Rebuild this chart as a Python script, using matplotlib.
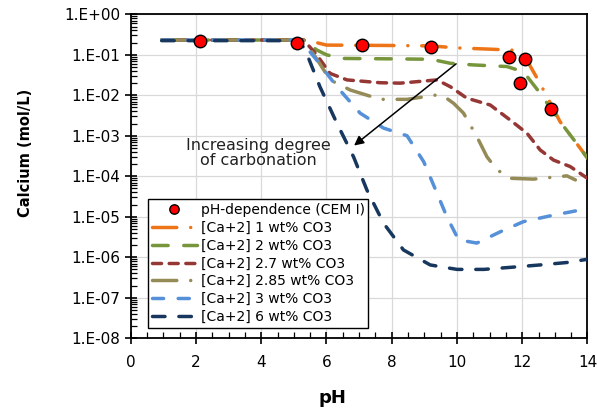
import matplotlib
matplotlib.use('Agg')
import matplotlib.pyplot as plt
from matplotlib.ticker import FixedLocator, FuncFormatter, MultipleLocator, LogLocator
import numpy as np

# -----------------------------------------------
# data (pH, log10 of Ca in mol/L)

cem_ph = [2.11, 5.10, 7.09, 9.19, 11.59, 12.08, 11.93, 12.87]
cem_ca = [0.22, 0.20, 0.175, 0.154, 0.086, 0.079, 0.020, 0.0045]

ph_1 = [0.95, 5.3, 5.5, 6.0, 8.0, 9.2, 10.0, 11.0, 11.85, 12.14, 12.55, 13.16, 13.67, 14.0]
log_1 = [-0.635, -0.635, -0.66, -0.76, -0.77, -0.78, -0.83, -0.86, -0.89, -1.13, -1.71, -2.65, -3.19, -3.55]

ph_2 = [0.95, 5.3, 5.7, 6.0, 6.5, 8.0, 9.2, 9.8, 10.5, 11.53, 12.04, 12.55, 13.16, 13.67, 14.0]
log_2 = [-0.635, -0.635, -0.88, -1.0, -1.09, -1.10, -1.11, -1.21, -1.25, -1.29, -1.42, -1.95, -2.65, -3.19, -3.55]

ph_27 = [0.95, 5.3, 5.7, 6.11, 6.63, 7.65, 8.26, 9.39, 9.8, 10.3, 11.02, 11.63, 12.15, 12.55, 12.96, 13.47, 14.0]
log_27 = [-0.635, -0.635, -1.0, -1.46, -1.62, -1.69, -1.70, -1.62, -1.79, -2.07, -2.24, -2.61, -2.94, -3.35, -3.60, -3.76, -4.05]

ph_285 = [0.95, 5.3, 5.7, 6.11, 6.73, 7.65, 8.47, 9.39, 9.59, 9.9, 10.2, 10.61, 10.92, 11.23, 11.63, 12.35, 13.37, 13.63]
log_285 = [-0.635, -0.635, -1.1, -1.62, -1.87, -2.10, -2.10, -1.99, -2.02, -2.20, -2.44, -3.02, -3.52, -3.84, -4.05, -4.07, -3.99, -4.09]

ph_3 = [0.95, 5.2, 5.7, 6.32, 7.03, 7.75, 8.47, 8.98, 9.39, 9.69, 10.05, 10.61, 11.33, 12.04, 12.96, 14.0]
log_3 = [-0.635, -0.635, -1.13, -1.79, -2.44, -2.81, -3.0, -3.64, -4.42, -5.0, -5.57, -5.65, -5.37, -5.12, -4.96, -4.80]

ph_6 = [0.95, 5.15, 5.35, 5.8, 6.32, 6.83, 7.24, 7.75, 8.36, 9.18, 10.0, 10.82, 11.63, 12.55, 13.37, 14.0]
log_6 = [-0.65, -0.65, -0.88, -1.79, -2.69, -3.52, -4.34, -5.16, -5.82, -6.19, -6.30, -6.30, -6.25, -6.19, -6.13, -6.05]

series = [
    (ph_1, log_1, '#EE7418', (7, 4, 0.01, 4), '[Ca+2] 1 wt% CO3'),
    (ph_2, log_2, '#77953B', (4.5, 4.5), '[Ca+2] 2 wt% CO3'),
    (ph_27, log_27, '#953735', (2.6, 2.2), '[Ca+2] 2.7 wt% CO3'),
    (ph_285, log_285, '#958B57', (7, 4, 0.01, 4), '[Ca+2] 2.85 wt% CO3'),
    (ph_3, log_3, '#5590D8', (3.2, 4.2), '[Ca+2] 3 wt% CO3'),
    (ph_6, log_6, '#17375E', (3.6, 4.0), '[Ca+2] 6 wt% CO3'),
]

# -----------------------------------------------

def decade_label(v, pos):
    return '1.E%+03d' % int(round(np.log10(v)))

# -----------------------------------------------

if __name__ == '__main__':

    plt.rcParams['font.family'] = 'DejaVu Sans'

    fig = plt.figure(figsize=(5.97, 4.15), dpi=100)
    ax = fig.add_axes([0.219, 0.185, 0.765, 0.7805])

    ax.set_yscale('log')
    ax.set_xlim(0, 14)
    ax.set_ylim(1e-8, 1)

    # CEM I points first so it is first in the legend
    ax.plot(cem_ph, cem_ca, 'o', color='#FF0000', markeredgecolor='black',
            markeredgewidth=1.0, markersize=9, zorder=5,
            label='pH-dependence (CEM I)')

    for ph, lg, color, dashes, label in series:
        ax.plot(ph, 10 ** np.array(lg), color=color, lw=2.5, dashes=dashes,
                dash_capstyle='round', label=label, zorder=3)

    ax.annotate('', xy=(6.78, 5.2e-4), xytext=(10.04, 0.066),
                arrowprops=dict(arrowstyle='-|>', color='black', lw=1.1,
                                mutation_scale=14), zorder=4)
    ax.text(3.9, 10 ** -3.42, 'Increasing degree\nof carbonation', ha='center',
            va='center', fontsize=11.5, linespacing=1.0, color='#222222')

    ax.yaxis.set_major_locator(FixedLocator([10.0 ** k for k in range(-8, 1)]))
    ax.yaxis.set_major_formatter(FuncFormatter(decade_label))
    ax.yaxis.set_minor_locator(LogLocator(base=10, subs=np.arange(2, 10), numticks=20))
    ax.xaxis.set_major_locator(MultipleLocator(2))
    ax.xaxis.set_minor_locator(MultipleLocator(0.5))

    ax.tick_params(which='major', direction='inout', length=8, width=1.2,
                   labelsize=11, colors='black')
    ax.tick_params(which='minor', direction='in', length=4, width=0.9)
    ax.tick_params(axis='x', which='major', pad=8)
    ax.yaxis.set_minor_formatter(plt.NullFormatter())

    ax.grid(True, which='major', color='#D9D9D9', lw=0.9)
    ax.set_axisbelow(True)
    for s in ax.spines.values():
        s.set_linewidth(1.3)
        s.set_color('black')

    ax.set_xlabel('pH', fontsize=13, fontweight='bold')
    ax.set_ylabel('Calcium (mol/L)', fontsize=10.5, fontweight='bold')
    # labels sit off-centre in the reference
    ax.xaxis.set_label_coords((332 - 130.7) / 456.6, -(389 - 338.3) / 324.0)
    ax.yaxis.set_label_coords(-(130.7 - 33) / 456.6, (338.3 - 153) / 324.0)

    leg = ax.legend(loc='lower left', bbox_to_anchor=(0.038, 0.033),
                    borderaxespad=0, fontsize=10, handlelength=3.3,
                    handletextpad=0.25, labelspacing=0.28, borderpad=0.25,
                    markerscale=0.75, fancybox=False, framealpha=1,
                    edgecolor='black')
    leg.get_frame().set_linewidth(1.0)

    fig.savefig('out.png', dpi=100)
